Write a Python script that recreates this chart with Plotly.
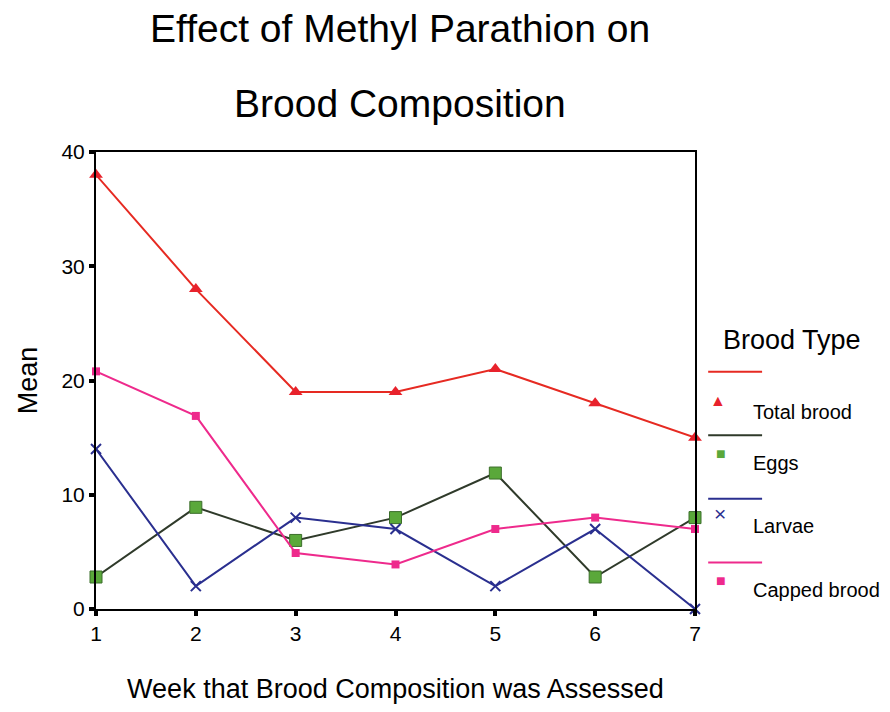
import plotly.graph_objects as go

weeks = [1, 2, 3, 4, 5, 6, 7]
total_brood = [38, 28, 19, 19, 21, 18, 15]
eggs = [2.8, 8.9, 6.0, 8.0, 11.9, 2.8, 8.0]
larvae = [14, 2, 8, 7, 2, 7, 0]
capped_brood = [20.8, 16.9, 4.9, 3.9, 7.0, 8.0, 7.0]

series = [
    ("Total brood", total_brood, "#e62a22", "triangle-up", "#e8222c", 12),
    ("Eggs", eggs, "#2f3a2a", "square", "#5aa83a", 12),
    ("Larvae", larvae, "#2a2f8f", "x-thin", "#2a2f8f", 10),
    ("Capped brood", capped_brood, "#ee2a8c", "square", "#ee2a8c", 8),
]

fig = go.Figure()
for name, vals, lc, sym, mc, ms in series:
    if sym == "x-thin":
        mline = dict(width=2, color=mc)
    elif name == "Eggs":
        mline = dict(width=1, color="#3b6e2a")
    else:
        mline = dict(width=0)
    fig.add_trace(go.Scatter(
        x=weeks, y=vals, name=name, mode="lines+markers",
        line=dict(color=lc, width=2),
        marker=dict(symbol=sym, size=ms, color=mc, line=mline),
        cliponaxis=False, showlegend=False,
    ))

# SPSS-style legend: line row, then marker + label row
legend_syms = {"Total brood": "▲", "Eggs": "■", "Larvae": "×", "Capped brood": "■"}
y0 = 0.519
step = 0.139
for i, (name, vals, lc, sym, mc, ms) in enumerate(series):
    yl = y0 - i * step
    fig.add_shape(type="line", xref="paper", yref="paper",
                  x0=1.022, x1=1.112, y0=yl, y1=yl, line=dict(color=lc, width=2))
    fig.add_annotation(xref="paper", yref="paper", x=1.055, y=yl - 0.062,
                       text=legend_syms[name], showarrow=False,
                       font=dict(size=16 if name != "Larvae" else 21, color=mc))
    fig.add_annotation(xref="paper", yref="paper", x=1.093, y=yl - 0.088,
                       text=name, showarrow=False, xanchor="left",
                       font=dict(size=20, color="black"))
fig.add_annotation(xref="paper", yref="paper", x=1.043, y=0.589,
                   text="Brood Type", showarrow=False, xanchor="left",
                   font=dict(size=27, color="black"))

# two-line title, spaced like the original
fig.add_annotation(xref="paper", yref="paper", x=0.507, y=1.322,
                   text="Effect of Methyl Parathion on", showarrow=False,
                   font=dict(size=39))
fig.add_annotation(xref="paper", yref="paper", x=0.507, y=1.157,
                   text="Brood Composition", showarrow=False,
                   font=dict(size=39))

# page body adds an 8px offset, so the figure is sized to fit the window
fig.update_layout(
    width=874, height=696,
    margin=dict(l=88, r=187, t=144, b=95),
    paper_bgcolor="white", plot_bgcolor="white",
    font=dict(family="Liberation Sans, Arial, sans-serif", color="black"),
)
fig.update_xaxes(
    range=[1, 7], tickvals=weeks, ticks="outside", ticklen=5, tickwidth=4,
    tickcolor="black", showline=True, linecolor="black", linewidth=2,
    mirror=True, showgrid=False, zeroline=False, tickfont=dict(size=21),
    automargin=False,
    title=dict(text="Week that Brood Composition was Assessed",
               font=dict(size=27), standoff=36),
)
fig.update_yaxes(
    range=[0, 40], tickvals=[0, 10, 20, 30, 40], ticks="outside", ticklen=5,
    tickwidth=4, tickcolor="black", showline=True, linecolor="black",
    linewidth=2, mirror=True, showgrid=False, zeroline=False,
    tickfont=dict(size=21), automargin=False,
    title=dict(text="Mean", font=dict(size=27), standoff=16),
)

fig.write_html("out.html")
